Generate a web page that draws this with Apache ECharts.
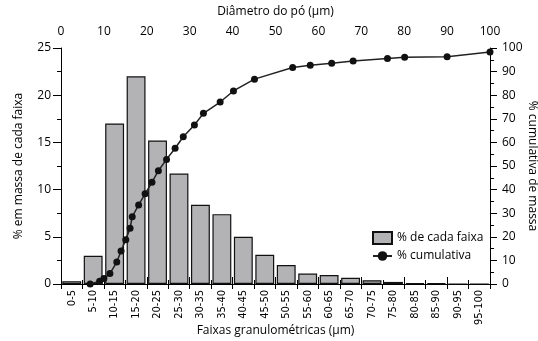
<!DOCTYPE html>
<html>
<head>
<meta charset="utf-8">
<script src="https://cdn.jsdelivr.net/npm/echarts@6/dist/echarts.min.js"></script>
<style>
html,body{margin:0;padding:0;background:#fff;}
#chart{width:538px;height:341px;}
</style>
</head>
<body>
<div id="chart"></div>
<script>
const categories = ['0-5','5-10','10-15','15-20','20-25','25-30','30-35','35-40','40-45','45-50','50-55','55-60','60-65','65-70','70-75','75-80','80-85','85-90','90-95','95-100'];
const massPct = [0.3, 3.0, 17.0, 22.0, 15.2, 11.7, 8.4, 7.4, 5.0, 3.1, 2.0, 1.1, 0.95, 0.65, 0.4, 0.22, 0.07, 0.07, 0, 0];
const cumDiam = [6.8, 9.0, 10.0, 11.4, 13.0, 14.0, 15.1, 16.1, 16.6, 18.1, 19.6, 21.2, 22.7, 24.6, 26.6, 28.5, 31.1, 33.2, 37.1, 40.2, 45.1, 54.0, 58.1, 63.1, 68.1, 76.1, 80.1, 90.0, 100.0];
const cumPct  = [0.0, 1.2, 2.3, 4.4, 9.3, 14.0, 18.8, 23.6, 28.5, 33.5, 38.2, 43.1, 48.0, 52.8, 57.5, 62.4, 67.4, 72.3, 77.1, 81.8, 86.8, 91.7, 92.7, 93.5, 94.5, 95.5, 96.1, 96.3, 98.3];
const leftTicks = { min: 0, max: 25, interval: 5 };
const rightTicks = { min: 0, max: 100, interval: 10 };
const topTicks = { min: 0, max: 100, interval: 10 };

const FONT = '"Open Sans", sans-serif';
const axisLineStyle = { show: true, lineStyle: { color: '#000', width: 1 } };
const chart = echarts.init(document.getElementById('chart'), null, { renderer: 'canvas' });
chart.setOption({
  animation: false,
  backgroundColor: '#fff',
  textStyle: { fontFamily: FONT, color: '#000' },
  grid: { left: 61, right: 48, top: 48, bottom: 57, containLabel: false, outerBoundsMode: 'none' },
  legend: {
    orient: 'vertical',
    left: 372, top: 231,
    itemWidth: 19, itemHeight: 12, itemGap: 5,
    padding: 0,
    textStyle: { fontFamily: FONT, fontSize: 12, color: '#000' },
    data: [{ name: '% de cada faixa', icon: 'rect' }, { name: '% cumulativa' }]
  },
  xAxis: [
    {
      type: 'category', data: categories, position: 'bottom',
      boundaryGap: true,
      axisLine: axisLineStyle,
      axisTick: { show: true, alignWithLabel: false, length: 5, lineStyle: { color: '#000' } },
      axisLabel: { rotate: 90, interval: 0, fontSize: 11, margin: 6, color: '#000',
                   fontFamily: '"Liberation Sans Narrow", "DejaVu Sans Condensed", sans-serif' },
      splitLine: { show: false },
      name: 'Faixas granulométricas (µm)', nameLocation: 'middle', nameGap: 41, nameMoveOverlap: false,
      nameTextStyle: { fontSize: 12, color: '#000', fontFamily: FONT }
    },
    {
      type: 'value', position: 'top', min: topTicks.min, max: topTicks.max, interval: topTicks.interval,
      axisLine: axisLineStyle,
      axisTick: { show: true, length: 7, lineStyle: { color: '#000' } },
      minorTick: { show: true, splitNumber: 2, length: 4, lineStyle: { color: '#000' } },
      axisLabel: { fontSize: 12, margin: 10, color: '#000' },
      splitLine: { show: false },
      name: 'Diâmetro do pó (µm)', nameLocation: 'middle', nameGap: 30, nameMoveOverlap: false,
      nameTextStyle: { fontSize: 12, color: '#000', fontFamily: FONT }
    }
  ],
  yAxis: [
    {
      type: 'value', position: 'left', min: leftTicks.min, max: leftTicks.max, interval: leftTicks.interval,
      axisLine: axisLineStyle,
      axisTick: { show: true, length: 8, lineStyle: { color: '#000' } },
      minorTick: { show: true, splitNumber: 2, length: 4, lineStyle: { color: '#000' } },
      axisLabel: { fontSize: 12, margin: 10, color: '#000' },
      splitLine: { show: false },
      name: '% em massa de cada faixa', nameLocation: 'middle', nameGap: 36, nameRotate: 90, nameMoveOverlap: false,
      nameTextStyle: { fontSize: 12, color: '#000', fontFamily: FONT }
    },
    {
      type: 'value', position: 'right', min: rightTicks.min, max: rightTicks.max, interval: rightTicks.interval,
      axisLine: axisLineStyle,
      axisTick: { show: true, length: 7, lineStyle: { color: '#000' } },
      minorTick: { show: true, splitNumber: 2, length: 4, lineStyle: { color: '#000' } },
      axisLabel: { fontSize: 12, margin: 12, color: '#000' },
      splitLine: { show: false },
      name: '% cumulativa de massa', nameLocation: 'middle', nameGap: 36, nameRotate: -90, nameMoveOverlap: false,
      nameTextStyle: { fontSize: 12, color: '#000', fontFamily: FONT }
    }
  ],
  series: [
    {
      name: '% de cada faixa', type: 'bar', xAxisIndex: 0, yAxisIndex: 0,
      data: massPct, barCategoryGap: '12%',
      itemStyle: { color: '#b3b3b6', borderColor: '#111', borderWidth: 1.2 }
    },
    {
      name: '% cumulativa', type: 'line', xAxisIndex: 1, yAxisIndex: 1,
      data: cumDiam.map((d, i) => [d, cumPct[i]]),
      symbol: 'circle', symbolSize: 7,
      lineStyle: { color: '#222', width: 1.5 },
      itemStyle: { color: '#111' }
    }
  ]
});
</script>
</body>
</html>
